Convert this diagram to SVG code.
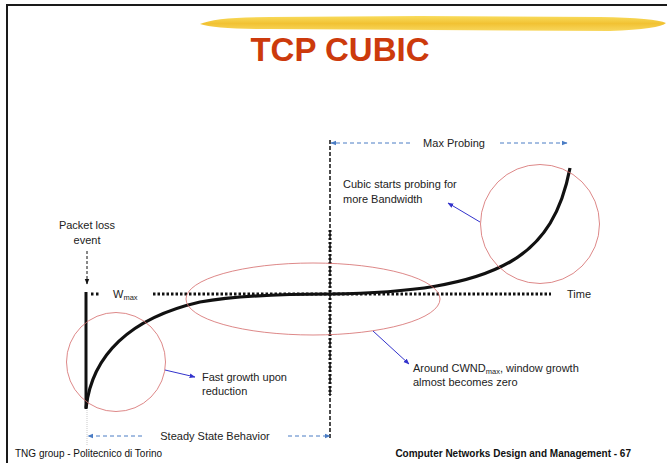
<svg xmlns="http://www.w3.org/2000/svg" width="667" height="463" viewBox="0 0 667 463">
<defs>
<style>
.t{font-family:"Liberation Sans",Arial,sans-serif;font-size:11px;fill:#222}
.ft{font-family:"Liberation Sans",Arial,sans-serif;font-size:10px;fill:#111}
.red{fill:none;stroke:#d46a6a;stroke-width:0.8}
.blue{stroke:#3333cc;stroke-width:1;fill:none}
.bdash{stroke:#4a7cc4;stroke-width:1;stroke-dasharray:4,3;fill:none}
</style>
<marker id="ab" viewBox="0 0 10 10" refX="9" refY="5" markerWidth="6" markerHeight="6" orient="auto-start-reverse"><path d="M0,1 L10,5 L0,9 z" fill="#3333cc"/></marker>
<marker id="al" viewBox="0 0 10 10" refX="9" refY="5" markerWidth="6" markerHeight="6" orient="auto-start-reverse"><path d="M0,1 L10,5 L0,9 z" fill="#4a7cc4"/></marker>
<marker id="ak" viewBox="0 0 10 10" refX="9" refY="5" markerWidth="6" markerHeight="6" orient="auto"><path d="M0,1 L10,5 L0,9 z" fill="#111"/></marker>
<linearGradient id="yg" x1="0" y1="0" x2="0" y2="1"><stop offset="0" stop-color="#f8d84a"/><stop offset="0.5" stop-color="#f0bb1c"/><stop offset="1" stop-color="#f7d24a"/></linearGradient>
</defs>
<rect width="667" height="463" fill="#fff"/>
<g id="frame">
<path d="M7,463 V5 H667" fill="none" stroke="#1a1a1a" stroke-width="2"/>
<path d="M200,24 Q215,17 270,17 L420,16 L600,17 Q655,18 666,23 Q660,29 610,31 L430,30 L270,29 Q215,29 200,24 Z" fill="url(#yg)" opacity="0.9"/>
<text x="340" y="61" text-anchor="middle" font-family="'Liberation Sans',Arial,sans-serif" font-size="33" font-weight="bold" fill="#cc3a0c">TCP CUBIC</text>
</g>
<g id="axes">
<line x1="330" y1="140" x2="330" y2="440" stroke="#111" stroke-width="1.5" stroke-dasharray="4,2"/>
<line x1="330" y1="230" x2="330" y2="395" stroke="#111" stroke-width="3" stroke-dasharray="2,2"/>
<line x1="91" y1="294" x2="99" y2="294" stroke="#111" stroke-width="3" stroke-dasharray="2.5,2.5"/>
<line x1="153" y1="294" x2="551" y2="294" stroke="#111" stroke-width="3" stroke-dasharray="2.5,2"/>
<line x1="87" y1="410" x2="87" y2="445" stroke="#bbb" stroke-width="0.8" stroke-dasharray="1,1"/>
</g>
<g id="curve">
<line x1="86" y1="292" x2="86" y2="409" stroke="#111" stroke-width="3"/>
<path d="M86,408 C92,355 130,318 200,302 C240,295 290,294 330,294 C410,293 470,285 510,262 C545,242 562,210 570,168" fill="none" stroke="#111" stroke-width="3.2"/>
</g>
<g id="circles">
<circle class="red" cx="116" cy="362" r="49.5"/>
<ellipse class="red" cx="313" cy="299" rx="127" ry="36"/>
<circle class="red" cx="540" cy="224" r="59.5"/>
</g>
<g id="connectors">
<line class="blue" x1="480" y1="222" x2="448" y2="203" marker-end="url(#ab)"/>
<line class="blue" x1="165" y1="370" x2="195" y2="377" marker-end="url(#ab)"/>
<line class="blue" x1="373" y1="331" x2="409" y2="364" marker-end="url(#ab)"/>
<line x1="87" y1="251" x2="87" y2="284" stroke="#111" stroke-width="1" stroke-dasharray="3,2" marker-end="url(#ak)"/>
<line class="bdash" x1="410" y1="143" x2="331" y2="143" marker-end="url(#al)"/>
<line class="bdash" x1="500" y1="143" x2="567" y2="143" marker-end="url(#al)"/>
<line class="bdash" x1="142" y1="436" x2="88" y2="436" marker-end="url(#al)"/>
<line class="bdash" x1="288" y1="436" x2="330" y2="436" marker-end="url(#al)"/>
</g>
<g id="labels">
<text class="t" x="454" y="147" text-anchor="middle">Max Probing</text>
<text class="t" x="343" y="188">Cubic starts probing for</text>
<text class="t" x="343" y="203">more Bandwidth</text>
<text class="t" x="87" y="229" text-anchor="middle">Packet loss</text>
<text class="t" x="87" y="244" text-anchor="middle">event</text>
<text class="t" x="113" y="298">W<tspan font-size="7.5" dy="2">max</tspan></text>
<text class="t" x="567" y="298">Time</text>
<text class="t" x="202" y="381">Fast growth upon</text>
<text class="t" x="202" y="395">reduction</text>
<text class="t" x="413" y="372">Around CWND<tspan font-size="7.5" dy="2">max</tspan><tspan dy="-2">, window growth</tspan></text>
<text class="t" x="413" y="386">almost becomes zero</text>
<text class="t" x="215" y="440" text-anchor="middle">Steady State Behavior</text>
<text class="ft" x="15" y="457">TNG group - Politecnico di Torino</text>
<text class="ft" x="631" y="457" text-anchor="end" font-weight="bold">Computer Networks Design and Management - 67</text>
</g>
</svg>
